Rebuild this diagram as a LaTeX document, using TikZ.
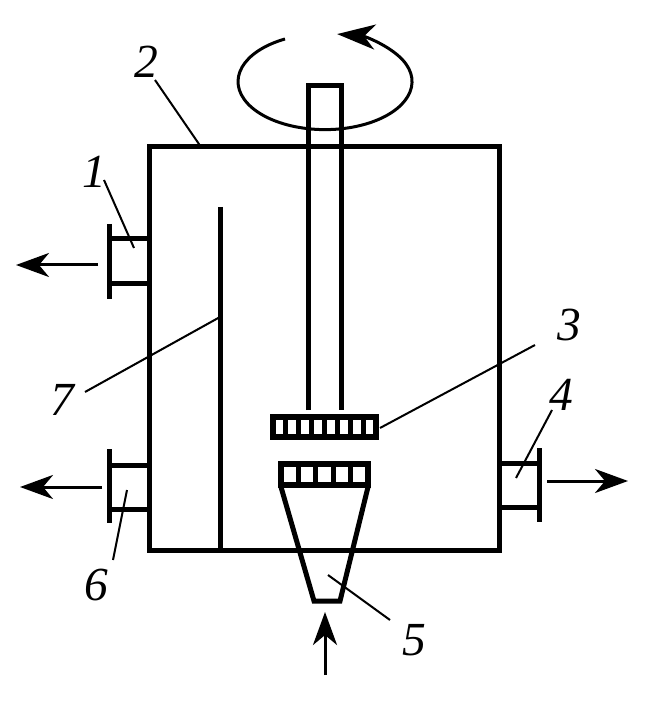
\documentclass[tikz,border=0pt]{standalone}
\usepackage{fontspec}
\setmainfont{Liberation Serif}
\usetikzlibrary{arrows.meta}

\tikzset{
    wall/.style={line width=0.05cm},
    leader/.style={line width=0.02cm},
    flow/.style={line width=0.03cm, -{Stealth[length=0.33cm, width=0.24cm, inset=0.1cm]}},
    num/.style={font=\fontsize{13.5pt}{14pt}\itshape, inner sep=0pt}
}

\begin{document}
\begin{tikzpicture}[x=0.01cm, y=-0.01cm]
    \useasboundingbox (0,0) rectangle (651,710);

    % Vessel
    \draw[wall] (149,147) rectangle (499,550);
    \draw[wall] (220,207) -- (220,550);

    % Shaft
    \draw[wall] (308,410) -- (308,86) -- (341,86) -- (341,410);

    % Rotation
    \draw[line width=0.03cm, -{Stealth[length=0.38cm, width=0.25cm, inset=0.11cm]}]
        (285,39) arc[start angle=242.6, end angle=-82, x radius=87, y radius=48];

    % Upper disc
    \draw[wall, line width=0.055cm] (273,417) rectangle (376,437);
    \foreach \i in {1,...,7}
        \draw[wall] (273+\i*12.9,417) -- (273+\i*12.9,437);

    % Lower disc
    \draw[wall, line width=0.06cm] (281,464) rectangle (368,485);
    \foreach \i in {1,...,4}
        \draw[wall] (281+\i*17.4,464) -- (281+\i*17.4,485);

    % Cone
    \draw[wall] (281,487) -- (314,601) -- (340,601) -- (368,487);

    % Nozzles
    \draw[wall] (109,224) -- (109,299);
    \draw[wall] (109,239) -- (149,239);
    \draw[wall] (109,284) -- (149,284);
    \draw[wall] (109,449) -- (109,523);
    \draw[wall] (109,465) -- (149,465);
    \draw[wall] (109,509) -- (149,509);
    \draw[wall] (539,448) -- (539,522);
    \draw[wall] (499,463) -- (539,463);
    \draw[wall] (499,507) -- (539,507);

    % Flows
    \coordinate (outonea) at (98,265);
    \coordinate (outoneb) at (16,265);
    \coordinate (outsixa) at (102,487);
    \coordinate (outsixb) at (20,487);
    \coordinate (outfoura) at (547,481);
    \coordinate (outfourb) at (628,481);
    \coordinate (feeda) at (325,675);
    \coordinate (feedb) at (325,612);
    \draw[flow] (outonea) -- (outoneb);
    \draw[flow] (outsixa) -- (outsixb);
    \draw[flow] (outfoura) -- (outfourb);
    \draw[flow] (feeda) -- (feedb);

    % Labels
    \node[num] (numone) at (94,172) {1};
    \node[num] (numtwo) at (146,62) {2};
    \node[num] (numthree) at (569,325) {3};
    \node[num] (numfour) at (561,395) {4};
    \node[num] (numfive) at (414,640) {5};
    \node[num] (numsix) at (96,585) {6};
    \node[num] (numseven) at (62,400) {7};

    \coordinate (endone) at (134,248);
    \coordinate (endtwo) at (201,147);
    \coordinate (endthree) at (380,428);
    \coordinate (endfour) at (516,478);
    \coordinate (endfive) at (328,575);
    \coordinate (endsix) at (127,490);
    \coordinate (endseven) at (220,317);
    \draw[leader] ([shift={(10,8)}]numone.center) -- (endone);
    \draw[leader] ([shift={(9,18)}]numtwo.center) -- (endtwo);
    \draw[leader] ([shift={(-34,20)}]numthree.center) -- (endthree);
    \draw[leader] ([shift={(-9,15)}]numfour.center) -- (endfour);
    \draw[leader] ([shift={(-24,-20)}]numfive.center) -- (endfive);
    \draw[leader] ([shift={(17,-25)}]numsix.center) -- (endsix);
    \draw[leader] ([shift={(23,-8)}]numseven.center) -- (endseven);
\end{tikzpicture}
\end{document}
